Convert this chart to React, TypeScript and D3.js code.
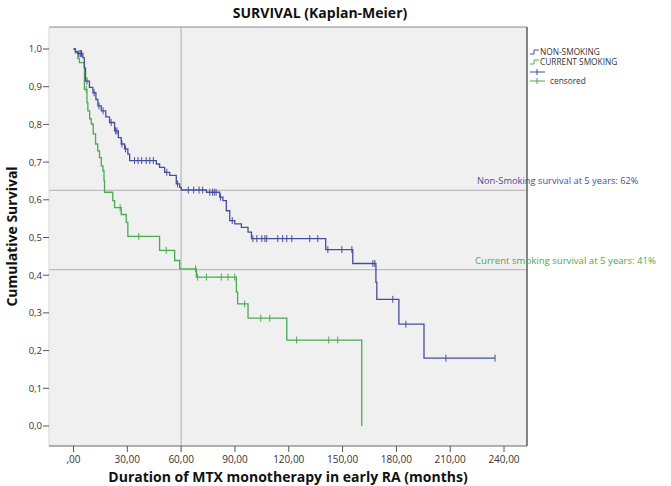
import React from 'react';
import * as d3 from 'd3';

const W = 671;
const H = 486;

// Kaplan-Meier step data (time in months, cumulative survival after event)
const nonSmokingTimes = [0, 1.1, 2.4, 5.2, 6.0, 6.7, 8.9, 10.8, 12.5, 13.6, 15.5, 18, 20.1, 22.9, 25, 26.6, 28.5, 30.3, 31.3, 46.2, 48, 50.8, 53.6, 57.3, 59.2, 60.1, 74.1, 81.5, 83.3, 85.2, 87.1, 89.9, 93.6, 97.3, 99.2, 140.6, 155.7, 168.6, 169.1, 181.4, 195.4];
const nonSmokingSurv = [1, 0.993, 0.988, 0.977, 0.95, 0.915, 0.898, 0.884, 0.866, 0.849, 0.836, 0.82, 0.805, 0.783, 0.765, 0.748, 0.735, 0.721, 0.704, 0.695, 0.686, 0.673, 0.665, 0.642, 0.633, 0.626, 0.62, 0.607, 0.598, 0.571, 0.545, 0.536, 0.527, 0.514, 0.497, 0.468, 0.431, 0.381, 0.336, 0.27, 0.18];
const nonSmokingEnd = 235;
const nonSmokingCensored = [3, 3.8, 4.5, 7.5, 11.5, 14.2, 16.5, 21, 23.5, 24.2, 27, 29, 34, 36, 38, 40.5, 42.5, 44.5, 52, 58, 64, 67, 70, 72, 76, 77.5, 78.5, 79.5, 82, 88.5, 100, 102.2, 105, 106.7, 107.7, 113.9, 116.6, 118.9, 121.7, 131.7, 136.2, 141.8, 149.6, 155.2, 166.9, 168, 178, 185.3, 207.6, 235];

const smokingTimes = [0, 1, 2.4, 3.3, 6.1, 7.5, 8, 9, 9.9, 11, 12.3, 13.5, 14.5, 15.5, 16.4, 17, 17.3, 21.9, 22.9, 26.6, 29.4, 30.3, 48, 56.4, 59.2, 68.5, 90.8, 91.5, 97.3, 118.9, 160.7];
const smokingSurv = [1, 0.99, 0.975, 0.964, 0.893, 0.858, 0.836, 0.815, 0.801, 0.775, 0.748, 0.73, 0.712, 0.69, 0.677, 0.651, 0.62, 0.598, 0.579, 0.561, 0.54, 0.503, 0.466, 0.439, 0.417, 0.395, 0.355, 0.324, 0.286, 0.228, 0];
const smokingCensored = [7.1, 26, 36.4, 51.7, 68.1, 69.2, 74.1, 82.4, 86.1, 89.9, 95.4, 104.4, 109.4, 124.4, 142.3, 147.3];

const xTicks = [0, 30, 60, 90, 120, 150, 180, 210, 240];
const xTickLabels = [',00', '30,00', '60,00', '90,00', '120,00', '150,00', '180,00', '210,00', '240,00'];
const yTicks = [0, 0.1, 0.2, 0.3, 0.4, 0.5, 0.6, 0.7, 0.8, 0.9, 1.0];
const yTickLabels = ['0,0', '0,1', '0,2', '0,3', '0,4', '0,5', '0,6', '0,7', '0,8', '0,9', '1,0'];

const refTime = 60;
const refNonSmoking = 0.625;
const refSmoking = 0.415;

const legendLabels = ['NON-SMOKING', 'CURRENT SMOKING', '', 'censored'];

const BLUE = '#474d9c';
const GREEN = '#4aab4f';

export default function App() {
  const plotL = 49, plotR = 527, plotT = 27, plotB = 446;
  const x = d3.scaleLinear().domain([0, 240]).range([73.5, 504]);
  const y = d3.scaleLinear().domain([0, 1]).range([426, 49]);

  const stepLine = d3.line<[number, number]>()
    .x(d => x(d[0]))
    .y(d => y(d[1]))
    .curve(d3.curveStepAfter);

  const nsPts: [number, number][] = nonSmokingTimes.map((t, i) => [t, nonSmokingSurv[i]]);
  nsPts.push([nonSmokingEnd, nonSmokingSurv[nonSmokingSurv.length - 1]]);
  const smPts: [number, number][] = smokingTimes.map((t, i) => [t, smokingSurv[i]]);

  const survAt = (times: number[], surv: number[], t: number) => {
    const i = d3.bisectRight(times, t) - 1;
    return surv[Math.max(0, i)];
  };

  const font = "'Open Sans', 'DejaVu Sans', sans-serif";

  return (
    <svg width={W} height={H} style={{ position: 'absolute', left: 0, top: 0, background: '#fff' }} fontFamily={font}>
      {/* plot background */}
      <rect x={plotL} y={plotT} width={plotR - plotL} height={plotB - plotT} fill="#f0f0f0" />
      {/* reference lines */}
      <line x1={x(refTime)} x2={x(refTime)} y1={plotT} y2={plotB} stroke="#bdbdbd" strokeWidth={1.3} />
      <line x1={plotL} x2={plotR} y1={y(refNonSmoking)} y2={y(refNonSmoking)} stroke="#bdbdbd" strokeWidth={1.3} />
      <line x1={plotL} x2={plotR} y1={y(refSmoking)} y2={y(refSmoking)} stroke="#bdbdbd" strokeWidth={1.3} />

      {/* frame */}
      <line x1={plotL} x2={plotR} y1={plotT} y2={plotT} stroke="#8a8a8a" strokeWidth={1} />
      <line x1={plotL} x2={plotL} y1={plotT} y2={plotB} stroke="#d8d8d8" strokeWidth={1} />
      <line x1={plotR} x2={plotR} y1={plotT} y2={plotB} stroke="#666" strokeWidth={1.6} />
      <line x1={plotL} x2={plotR} y1={plotB} y2={plotB} stroke="#666" strokeWidth={1.2} />

      {/* curves */}
      <path d={stepLine(smPts) || ''} fill="none" stroke={GREEN} strokeWidth={1.3} />
      <path d={stepLine(nsPts) || ''} fill="none" stroke={BLUE} strokeWidth={1.3} />

      {/* censor marks */}
      {smokingCensored.map((t, i) => {
        const cy = y(survAt(smokingTimes, smokingSurv, t));
        return <line key={'sc' + i} x1={x(t)} x2={x(t)} y1={cy - 3.5} y2={cy + 3.5} stroke={GREEN} strokeWidth={1} />;
      })}
      {nonSmokingCensored.map((t, i) => {
        const cy = y(survAt(nonSmokingTimes, nonSmokingSurv, t));
        return <line key={'nc' + i} x1={x(t)} x2={x(t)} y1={cy - 3.5} y2={cy + 3.5} stroke={BLUE} strokeWidth={1} />;
      })}

      {/* y axis */}
      {yTicks.map((v, i) => (
        <g key={'y' + i}>
          <line x1={plotL - 6} x2={plotL} y1={y(v)} y2={y(v)} stroke="#555" strokeWidth={1} />
          <text x={plotL - 7} y={y(v) + 3.4} textAnchor="end" fontSize={9.5} fill="#333">{yTickLabels[i]}</text>
        </g>
      ))}
      {/* x axis */}
      {xTicks.map((v, i) => (
        <g key={'x' + i}>
          <line x1={x(v)} x2={x(v)} y1={plotB} y2={plotB + 6} stroke="#555" strokeWidth={1} />
          <text x={x(v)} y={plotB + 17} textAnchor="middle" fontSize={10} fill="#333">{xTickLabels[i]}</text>
        </g>
      ))}

      {/* titles */}
      <text x={320} y={18} textAnchor="middle" fontSize={14} fontWeight="bold" fill="#111">SURVIVAL (Kaplan-Meier)</text>
      <text x={288} y={482} textAnchor="middle" fontSize={14} fontWeight="bold" fill="#111">Duration of MTX monotherapy in early RA (months)</text>
      <text transform={`translate(17, ${(plotT + plotB) / 2}) rotate(-90)`} textAnchor="middle" fontSize={14} fontWeight="bold" fill="#111">Cumulative Survival</text>

      {/* annotations */}
      <text x={477} y={y(refNonSmoking) - 6} fontSize={9.3} fill={BLUE}>Non-Smoking survival at 5 years: 62%</text>
      <text x={475} y={y(refSmoking) - 6} fontSize={9.6} fill={GREEN}>Current smoking survival at 5 years: 41%</text>

      {/* legend */}
      <g fontSize={8.3} fill="#333">
        {[0, 1].map(i => {
          const ly = 52 + i * 10;
          const c = i === 0 ? BLUE : GREEN;
          return (
            <g key={'lg' + i}>
              <path d={`M530,${ly + 2} H534 V${ly - 2} H539`} fill="none" stroke={c} strokeWidth={1} />
              <text x={540} y={ly + 3}>{legendLabels[i]}</text>
            </g>
          );
        })}
        {[0, 1].map(i => {
          const ly = 72 + i * 9;
          const c = i === 0 ? BLUE : GREEN;
          return (
            <g key={'lc' + i}>
              <line x1={530} x2={545} y1={ly} y2={ly} stroke={c} strokeWidth={1} />
              <line x1={537} x2={537} y1={ly - 3} y2={ly + 3} stroke={c} strokeWidth={1} />
              {legendLabels[2 + i] ? <text x={550} y={ly + 3}>{legendLabels[2 + i]}</text> : null}
            </g>
          );
        })}
      </g>
    </svg>
  );
}
